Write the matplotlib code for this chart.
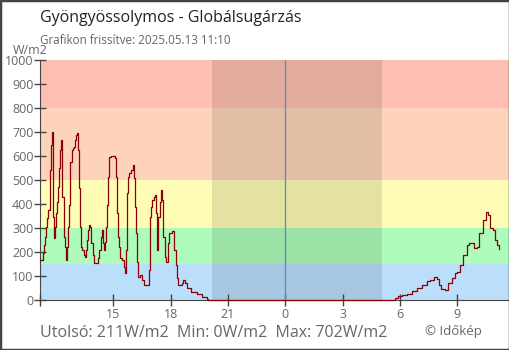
import numpy as np
import matplotlib
matplotlib.use("Agg")
import matplotlib.pyplot as plt
from matplotlib.patches import Rectangle

# time in minutes relative to midnight (negative = previous day), value in W/m2
minutes = [
    -770, -759, -757, -756, -755, -752, -749, -746, -743, -739, -737, -734,
    -732, -730, -728, -725, -722, -719, -716, -713, -709, -706, -703, -701,
    -699, -694, -691, -688, -686, -683, -680, -677, -674, -670, -667, -663,
    -659, -656, -653, -651, -647, -644, -641, -638, -632, -628, -624, -621,
    -618, -615, -612, -609, -604, -601, -592, -588, -583, -579, -576, -573,
    -570, -566, -562, -558, -555, -552, -546, -534, -531, -527, -524, -521,
    -518, -512, -506, -502, -500, -497, -494, -490, -485, -479, -476, -472,
    -469, -466, -463, -456, -448, -443, -431, -429, -426, -423, -420, -417,
    -412, -410, -406, -403, -401, -398, -393, -390, -387, -383, -377, -373,
    -369, -366, -360, -354, -350, -344, -340, -336, -323, -320, -314, -307,
    -297, -278, -262, -247, -242, 337, 344, 355, 365, 381, 397, 412, 428,
    444, 454, 465, 475, 481, 488, 501, 512, 522, 533, 540, 548, 559, 569,
    575, 585, 592, 601, 609, 619, 629, 635, 642, 651, 658, 665, 670,
]
values = [
    167, 194, 222, 230, 264, 305, 340, 361, 375, 430, 541, 645,
    702, 583, 347, 257, 305, 361, 410, 472, 548, 625, 667, 583,
    430, 264, 222, 167, 222, 305, 396, 486, 576, 625, 632, 639,
    667, 688, 697, 625, 465, 305, 222, 208, 188, 181, 208, 250,
    292, 312, 305, 236, 188, 153, 153, 174, 208, 264, 292, 236,
    208, 243, 305, 396, 514, 597, 600, 590, 514, 361, 264, 222,
    174, 167, 139, 111, 208, 444, 514, 528, 542, 562, 507, 389,
    278, 160, 97, 104, 83, 62, 62, 125, 229, 347, 389, 417,
    430, 437, 361, 222, 208, 347, 410, 458, 417, 264, 181, 160,
    236, 278, 281, 289, 208, 146, 90, 62, 69, 83, 69, 49,
    35, 25, 14, 3, 0, 0, 7, 17, 21, 25, 39, 49, 62,
    81, 83, 97, 86, 62, 47, 42, 69, 93, 114, 118, 146, 188, 229,
    239, 239, 215, 222, 278, 333, 368, 354, 299, 292, 250, 229, 211,
]

band_edges = [0, 150, 300, 500, 800, 1000]
band_colors = ["#bbdefb", "#aefcbb", "#fefcb5", "#fdd4bb", "#fdbfb1"]
night = (-230, 304)  # 20:10 -> 05:04

tick_pos = [-540, -360, -180, 0, 180, 360, 540]
tick_labels = ["15", "18", "21", "0", "3", "6", "9"]

plt.rcParams["font.family"] = ["Open Sans", "DejaVu Sans"]
GRAY = "#666666"
AXC = "#444444"

fig = plt.figure(figsize=(5.1, 3.5), dpi=100)
ax = fig.add_axes([40.5 / 510, 50 / 350, 1 - 40.5 / 510, 240 / 350])
xmin, xmax = -768, 705
ax.set_xlim(xmin, xmax)
ax.set_ylim(0, 1000)

for lo, hi, c in zip(band_edges[:-1], band_edges[1:], band_colors):
    ax.axhspan(lo, hi, color=c, lw=0, zorder=0)
ax.axvspan(night[0], night[1], color="black", alpha=0.1, lw=0, zorder=1)
ax.axvline(0, color="#4a90c8", lw=0.9, zorder=2)

ax.plot(minutes, values, color="#8b0000", lw=0.9, drawstyle="steps-post",
        zorder=5, clip_on=False)

for s in ["top", "right"]:
    ax.spines[s].set_visible(False)
ax.spines["left"].set_color(AXC)
ax.spines["bottom"].set_color(AXC)
ax.spines["left"].set_bounds(0, 1000)
ax.spines["bottom"].set_zorder(4)

ax.set_yticks(range(0, 1001, 100))
ax.set_yticklabels([str(v) for v in range(0, 1001, 100)])
ax.set_xticks([xmin] + tick_pos)
ax.set_xticklabels([""] + tick_labels)
ax.tick_params(axis="both", colors=AXC, labelcolor=GRAY, labelsize=9,
               length=8, width=1, direction="inout")
ax.tick_params(axis="x", pad=2)
ax.tick_params(axis="y", pad=1)

fig.text(40 / 510, 1 - 18 / 350, "Gyöngyössolymos - Globálsugárzás",
         fontsize=11.5, color="#222222", va="center")
fig.text(40 / 510, 1 - 41 / 350, "Grafikon frissítve: 2025.05.13 11:10",
         fontsize=8.4, color=GRAY, va="center")
fig.text(13 / 510, 1 - 51 / 350, "W/m2", fontsize=9, color=GRAY, va="center")
fig.text(40 / 510, 1 - 333 / 350,
         "Utolsó: 211W/m2  Min: 0W/m2  Max: 702W/m2",
         fontsize=11.5, color=GRAY, va="center")
fig.text(425 / 510, 1 - 331 / 350, "© Időkép", fontsize=9.5, color=GRAY,
         va="center")

fig.patches.append(Rectangle((0, 0), 1, 1, transform=fig.transFigure,
                             fill=False, edgecolor=AXC, lw=2.5, zorder=10))

fig.savefig("out.png", dpi=100)
